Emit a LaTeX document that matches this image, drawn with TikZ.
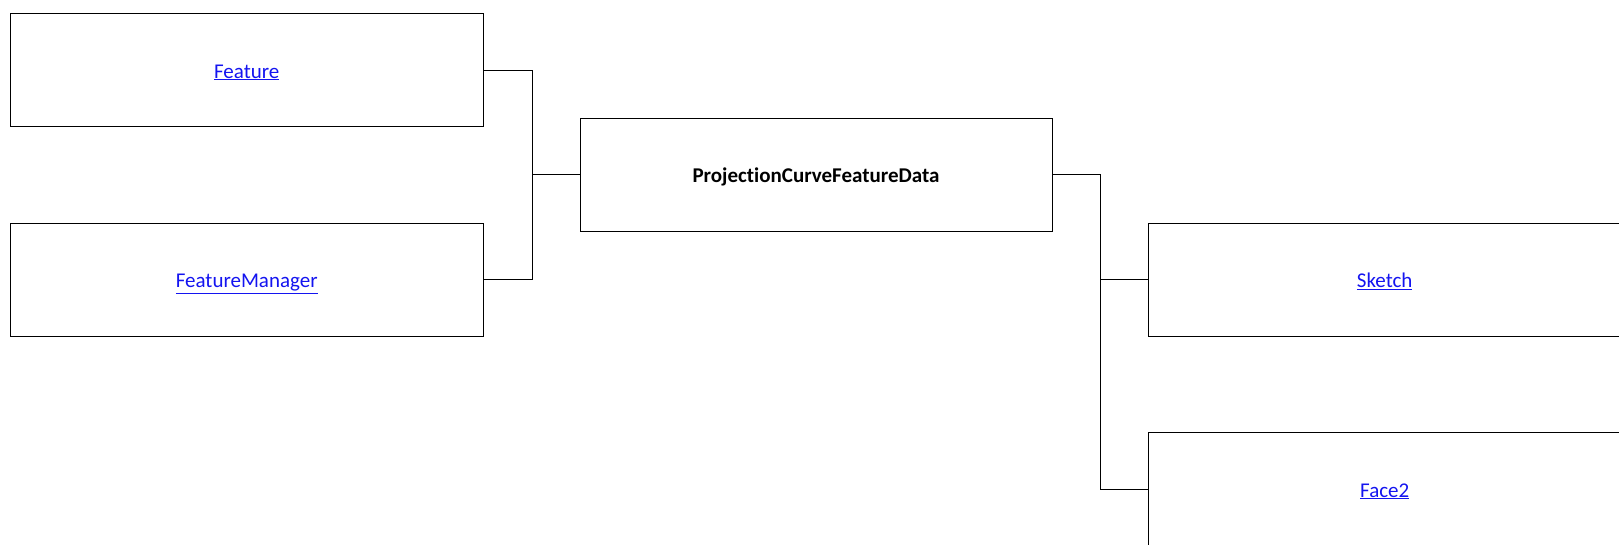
\documentclass[tikz,border=0pt]{standalone}
\usepackage{fontspec}
\setmainfont{Carlito}[Ligatures=NoCommon]
\definecolor{linkblue}{RGB}{20,20,240}
\begin{document}
\begin{tikzpicture}[x=1pt,y=-1pt,
  box/.style={draw=black,line width=1pt,minimum width=473pt,minimum height=113pt,inner sep=0pt,text height=15.8pt,text depth=0pt,font=\fontsize{21}{25}\selectfont},
  link/.style={text=linkblue},
  conn/.style={draw=black,line width=1pt}]
\useasboundingbox (0,0) rectangle (1619,544);
\node[box,link] (feat) at (246.7,70.2) {\underline{Feature}};
\node[box,link] (fm) at (246.7,279.8) {\underline{FeatureManager}};
\node[box,minimum width=472pt] (pcfd) at (816,174.8) {\textbf{ProjectionCurveFeatureData}};
\node[box,link] (sketch) at (1384.7,279.8) {\underline{Sketch}};
\node[box,link] (face) at (1384.7,489.2) {\underline{Face2}};
\draw[conn] (feat.east) -- ++(48.5,0) |- (pcfd.west);
\draw[conn] (fm.east) -- ++(48.5,0) |- (pcfd.west);
\draw[conn] (pcfd.east) -- ++(48.4,0) |- (sketch.west);
\draw[conn] (pcfd.east) -- ++(48.4,0) |- (face.west);
\end{tikzpicture}
\end{document}
